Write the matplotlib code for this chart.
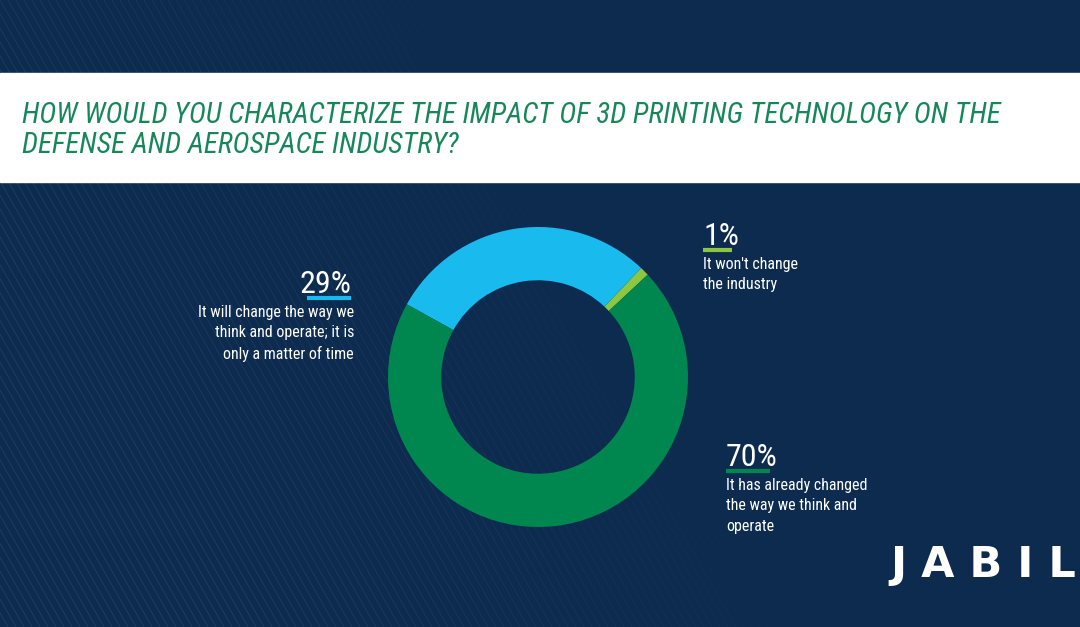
import numpy as np
import matplotlib
matplotlib.use("Agg")
import matplotlib.pyplot as plt

# data
answers = ["It won't change\nthe industry",
           "It will change the way we\nthink and operate; it is\nonly a matter of time",
           "It has already changed\nthe way we think and\noperate"]
shares = [1, 29, 70]
colors = ["#8dc63f", "#19bbee", "#00874f"]

title = ("HOW WOULD YOU CHARACTERIZE THE IMPACT OF 3D PRINTING TECHNOLOGY ON THE\n"
         "DEFENSE AND AEROSPACE INDUSTRY?")

W, H = 1080, 627
navy = "#0c2b4f"
narrow = ["Roboto Condensed", "Liberation Sans Narrow", "DejaVu Sans"]

fig = plt.figure(figsize=(W / 100, H / 100), dpi=100)
fig.patch.set_facecolor(navy)

# background layer in pixel coords
bg = fig.add_axes([0, 0, 1, 1])
bg.set_xlim(0, W)
bg.set_ylim(H, 0)
bg.axis("off")

# faint diagonal stripes, strongest on the left
for x0 in np.arange(-400, 700, 8):
    a = max(0.0, 0.09 - 0.00015 * max(x0 + 100, 0))
    bg.plot([x0, x0 + 360], [0, H], color="white", lw=0.6, alpha=a)

# white title band
bg.add_patch(plt.Rectangle((0, 73), W, 109, color="white", zorder=2))
bg.text(22, 130, title, color="#17875a", fontsize=20.8, fontstyle="italic",
        family=narrow, stretch="condensed", va="center", ha="left",
        linespacing=1.05, zorder=3)

# labels: percent, coloured underline, description
def label(x, b, pct, text, col, ha):
    bg.text(x, b, pct, color="white", fontsize=23,
            family=narrow, stretch="condensed", ha=ha, va="baseline", zorder=3)
    w = len(pct) * 14.7
    x1, x2 = (x, x + w) if ha == "left" else (x - w, x)
    bg.plot([x1, x2], [b + 4.5, b + 4.5], color=col, lw=3, solid_capstyle="butt", zorder=3)
    bg.text(x + (3 if ha == "right" else 0), b + 12, text, color="white", fontsize=11.5,
            family=narrow, stretch="condensed", ha=ha, va="top", multialignment=ha,
            linespacing=1.45, zorder=3)

label(351, 293, "29%", answers[1], colors[1], "right")
label(703, 245, "1%", answers[0], colors[0], "left")
label(726, 466, "70%", answers[2], colors[2], "left")

# logo
bg.text(890, 577, "J A B I L", color="white", fontsize=31, fontweight="bold",
        family="DejaVu Sans", ha="left", va="baseline", zorder=3)

# donut
cx, cy, r = 538, 377, 150
ax = fig.add_axes([(cx - r) / W, (H - cy - r) / H, 2 * r / W, 2 * r / H])
ax.pie(shares, colors=colors, startangle=43, counterclock=True, radius=1,
       wedgeprops=dict(width=0.355, edgecolor="none"))
ax.set_xlim(-1, 1)
ax.set_ylim(-1, 1)
ax.set_aspect("equal")
ax.axis("off")

fig.savefig("out.png", dpi=100, facecolor=fig.get_facecolor())
